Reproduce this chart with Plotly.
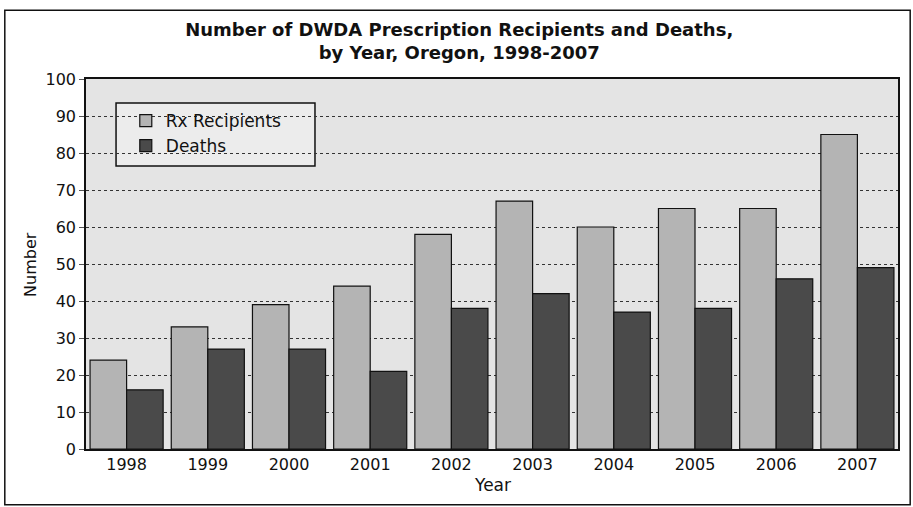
import plotly.graph_objects as go

years = ["1998", "1999", "2000", "2001", "2002", "2003", "2004", "2005", "2006", "2007"]
rx_recipients = [24, 33, 39, 44, 58, 67, 60, 65, 65, 85]
deaths = [16, 27, 27, 21, 38, 42, 37, 38, 46, 49]
y_ticks = list(range(0, 101, 10))

FONT = "DejaVu Sans"

fig = go.Figure()
fig.add_trace(go.Bar(
    x=years, y=rx_recipients, name="Rx Recipients", legendgroup="a",
    marker=dict(color="#b4b4b4", line=dict(color="#111111", width=1.2)),
))
fig.add_trace(go.Bar(
    x=years, y=deaths, name="Deaths", legendgroup="b",
    marker=dict(color="#4a4a4a", line=dict(color="#111111", width=1.2)),
))

fig.update_layout(
    width=913, height=507,
    margin=dict(l=86, r=15, t=79, b=58),
    paper_bgcolor="white",
    plot_bgcolor="#e4e4e4",
    barmode="group", bargap=0.1, bargroupgap=0,
    font=dict(family=FONT, size=16, color="#111111"),
    title=dict(
        text="<b>Number of DWDA Prescription Recipients and Deaths,<br>by Year, Oregon, 1998-2007</b>",
        font=dict(family=FONT, size=18, color="#111111"),
        xref="container", x=0.503, xanchor="center",
        yref="container", y=0.929, yanchor="top",
    ),
    showlegend=True,
    legend=dict(
        x=0.049, y=0.935, xanchor="left", yanchor="top",
        bgcolor="rgba(0,0,0,0)", borderwidth=0,
        font=dict(family=FONT, size=17, color="#111111"),
        tracegroupgap=14, traceorder="normal",
    ),
    xaxis=dict(
        showgrid=False, showline=True, linecolor="#111111", linewidth=1.5,
        mirror=True, ticks="", tickfont=dict(family=FONT, size=16),
    ),
    yaxis=dict(
        range=[0, 100], tickvals=y_ticks, showgrid=True,
        gridcolor="#333333", griddash="dot", gridwidth=1,
        showline=True, linecolor="#111111", linewidth=1.5, mirror=True,
        ticks="outside", ticklen=5, tickcolor="#555555",
        tickfont=dict(family=FONT, size=16), zeroline=False,
    ),
    annotations=[
        dict(text="Number", textangle=-90, xref="paper", yref="paper",
             x=-0.069, y=0.5, xanchor="center", yanchor="middle",
             showarrow=False, font=dict(family=FONT, size=16)),
        dict(text="Year", xref="paper", yref="paper",
             x=0.5, y=-0.097, xanchor="center", yanchor="middle",
             showarrow=False, font=dict(family=FONT, size=17)),
    ],
    shapes=[
        # legend box
        dict(type="rect", xref="paper", yref="paper",
             x0=0.037, x1=0.282, y0=0.765, y1=0.935,
             line=dict(color="#111111", width=1.5), fillcolor="#ececec", layer="below"),
        # outer frame
        dict(type="rect", xref="paper", yref="paper",
             x0=-0.1, x1=1.015, y0=-0.151, y1=1.186,
             line=dict(color="#111111", width=1.5)),
    ],
)

fig.write_html("out.html")
